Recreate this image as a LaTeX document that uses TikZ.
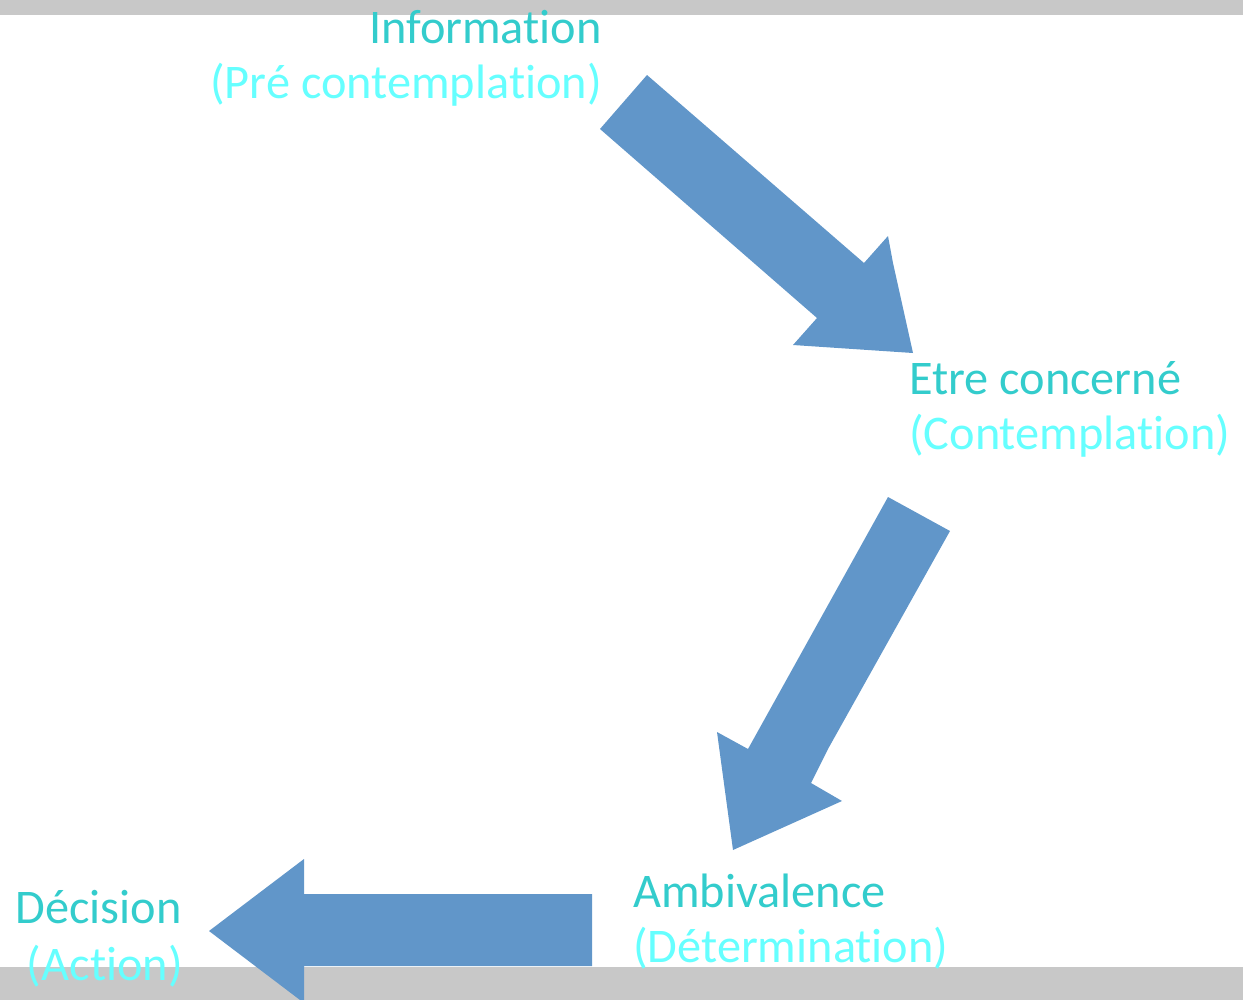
\documentclass[tikz,border=0pt]{standalone}
\usepackage{fontspec}
\setmainfont{Carlito}[Ligatures={NoCommon}]
\definecolor{stagecol}{RGB}{51,204,204}
\definecolor{subcol}{RGB}{102,255,255}
\definecolor{arrowcol}{RGB}{97,150,201}
\definecolor{barcol}{RGB}{200,200,200}
\begin{document}
\begin{tikzpicture}[x=1bp,y=-1bp,
  stage/.style={inner sep=0pt,text=stagecol,font=\fontsize{48.5}{56}\selectfont},
  substage/.style={inner sep=0pt,text=subcol,font=\fontsize{48.5}{56}\selectfont},
  blockarrow/.style={fill=arrowcol,draw=none}]
\useasboundingbox (0,0) rectangle (1243,1000);
\clip (0,0) rectangle (1243,1000);
% grey bands along the top and bottom edges
\fill[barcol] (0,0) rectangle (1243,15);
\fill[barcol] (0,967) rectangle (1243,1000);
% block arrows of the cycle
\fill[blockarrow] (647,75) -- (864,263) -- (888,236) -- (893,263) -- (913,353)
  -- (793,345) -- (817,318) -- (600,129) -- cycle;
\fill[blockarrow] (888,497) -- (950,531) -- (828,749) -- (811,783) -- (842,801)
  -- (733,850) -- (717,732) -- (748,749) -- cycle;
\fill[blockarrow] (592,894) -- (592,966) -- (304,966) -- (304,1003) -- (209,931)
  -- (304,859) -- (304,894) -- cycle;
% stage labels
\node[stage,anchor=base east] (info) at (602,43) {Information};
\node[substage,anchor=base east] (infosub) at (602,98) {(Pré contemplation)};
\node[stage,anchor=base west] (etre) at (909,394) {Etre concerné};
\node[substage,anchor=base west] (etresub) at (909,449) {(Contemplation)};
\node[stage,anchor=base west] (ambi) at (633,907) {Ambivalence};
\node[substage,anchor=base west] (ambisub) at (633,962) {(Détermination)};
\node[stage,anchor=base east] (deci) at (182,923) {Décision};
\node[substage,anchor=base east] (decisub) at (183,980) {(Action)};
\end{tikzpicture}
\end{document}
